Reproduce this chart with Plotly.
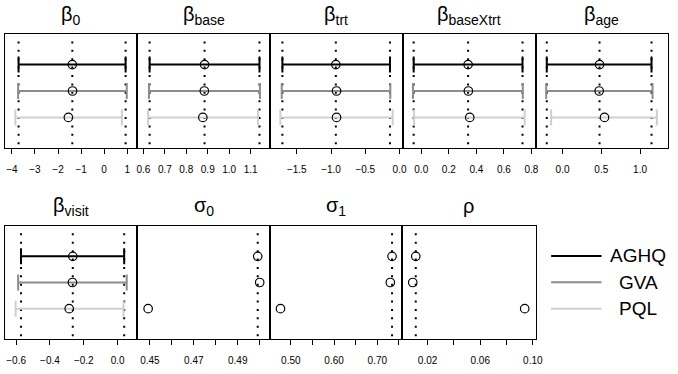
import plotly.graph_objects as go

W, H = 678, 374

methods = ["AGHQ", "GVA", "PQL"]
method_colors = ["#000000", "#8c8c8c", "#cfcfcf"]

titles = ["β<sub>0</sub>", "β<sub>base</sub>", "β<sub>trt</sub>", "β<sub>baseXtrt</sub>", "β<sub>age</sub>",
          "β<sub>visit</sub>", "σ<sub>0</sub>", "σ<sub>1</sub>", "ρ"]

# estimates per method (AGHQ, GVA, PQL)
est_b0 = [-1.38, -1.37, -1.55]
lo_b0 = [-3.71, -3.73, -3.85]
hi_b0 = [0.93, 0.98, 0.77]

est_base = [0.885, 0.884, 0.877]
lo_base = [0.629, 0.626, 0.622]
hi_base = [1.141, 1.143, 1.134]

est_trt = [-0.93, -0.92, -0.92]
lo_trt = [-1.71, -1.72, -1.74]
hi_trt = [-0.14, -0.135, -0.10]

est_bxt = [0.340, 0.342, 0.352]
lo_bxt = [-0.055, -0.060, -0.052]
hi_bxt = [0.735, 0.737, 0.751]

est_age = [0.477, 0.472, 0.541]
lo_age = [-0.204, -0.212, -0.148]
hi_age = [1.148, 1.161, 1.217]

est_visit = [-0.265, -0.267, -0.286]
lo_visit = [-0.571, -0.588, -0.603]
hi_visit = [0.039, 0.054, 0.035]

est_s0 = [0.4991, 0.5000, 0.4492]
est_s1 = [0.734, 0.730, 0.476]
est_rho = [0.0110, 0.0087, 0.0938]

# tick values and labels per panel (plus unlabeled minor ticks)
tv_b0 = [-4, -3, -2, -1, 0, 1]
tt_b0 = ["−4", "−3", "−2", "−1", "0", "1"]
tv_base = [0.6, 0.7, 0.8, 0.9, 1.0, 1.1]
tt_base = ["0.6", "0.7", "0.8", "0.9", "1.0", "1.1"]
tv_trt = [-1.5, -1.0, -0.5, 0.0]
tt_trt = ["−1.5", "−1.0", "−0.5", "0.0"]
tv_bxt = [0.0, 0.2, 0.4, 0.6, 0.8]
tt_bxt = ["0.0", "0.2", "0.4", "0.6", "0.8"]
tv_age = [0.0, 0.5, 1.0]
tt_age = ["0.0", "0.5", "1.0"]
tv_visit = [-0.6, -0.4, -0.2, 0.0]
tt_visit = ["−0.6", "−0.4", "−0.2", "0.0"]
tv_s0 = [0.45, 0.47, 0.49]
tt_s0 = ["0.45", "0.47", "0.49"]
mv_s0 = [0.46, 0.48, 0.50]
tv_s1 = [0.50, 0.60, 0.70]
tt_s1 = ["0.50", "0.60", "0.70"]
mv_s1 = [0.55, 0.65, 0.75]
tv_rho = [0.02, 0.06, 0.10]
tt_rho = ["0.02", "0.06", "0.10"]
mv_rho = [0.04, 0.08]

panels = [
    dict(est=est_b0, lo=lo_b0, hi=hi_b0, tv=tv_b0, tt=tt_b0, mv=None, xr=[-4.30, 1.44]),
    dict(est=est_base, lo=lo_base, hi=hi_base, tv=tv_base, tt=tt_base, mv=None, xr=[0.572, 1.189]),
    dict(est=est_trt, lo=lo_trt, hi=hi_trt, tv=tv_trt, tt=tt_trt, mv=None, xr=[-1.894, 0.053]),
    dict(est=est_bxt, lo=lo_bxt, hi=hi_bxt, tv=tv_bxt, tt=tt_bxt, mv=None, xr=[-0.131, 0.830]),
    dict(est=est_age, lo=lo_age, hi=hi_age, tv=tv_age, tt=tt_age, mv=None, xr=[-0.348, 1.361]),
    dict(est=est_visit, lo=lo_visit, hi=hi_visit, tv=tv_visit, tt=tt_visit, mv=None, xr=[-0.666, 0.117]),
    dict(est=est_s0, lo=None, hi=None, tv=tv_s0, tt=tt_s0, mv=mv_s0, xr=[0.4443, 0.5046]),
    dict(est=est_s1, lo=None, hi=None, tv=tv_s1, tt=tt_s1, mv=mv_s1, xr=[0.4513, 0.7575]),
    dict(est=est_rho, lo=None, hi=None, tv=tv_rho, tt=tt_rho, mv=mv_rho, xr=[0.0007, 0.1021]),
]

# panel boxes in pixels (x0, x1, ytop, ybottom)
boxes = [(4, 138, 34, 148), (138, 272, 34, 148), (272, 407, 34, 148), (407, 541, 34, 148), (541, 675, 34, 148),
         (4, 138, 226, 339), (138, 272, 226, 339), (272, 406, 226, 339), (406, 541, 226, 339)]
title_y = [16, 16, 16, 16, 16, 206, 206, 206, 206]

FONT = "Liberation Sans, Arial, Helvetica, sans-serif"
fig = go.Figure()
layout = dict(width=W, height=H, margin=dict(l=0, r=0, t=0, b=0), paper_bgcolor="white",
              plot_bgcolor="white", showlegend=False, font=dict(family=FONT, color="black"))
shapes = []
annotations = []

for i, (p, b) in enumerate(zip(panels, boxes)):
    xa = "x" if i == 0 else f"x{i+1}"
    ya = "y" if i == 0 else f"y{i+1}"
    xkey = "xaxis" if i == 0 else f"xaxis{i+1}"
    ykey = "yaxis" if i == 0 else f"yaxis{i+1}"
    x0, x1, yt, yb = b
    xaxis = dict(domain=[x0 / W, x1 / W], anchor=ya, range=p["xr"], showgrid=False, zeroline=False,
                 showline=True, mirror=True, linecolor="black", linewidth=1,
                 ticks="outside", ticklen=5, tickwidth=1, tickcolor="black",
                 tickvals=p["tv"], ticktext=p["tt"], tickfont=dict(size=10, family=FONT, color="black"),
                 ticklabelstandoff=7)
    if p["mv"] is not None:
        xaxis["minor"] = dict(tickvals=p["mv"], ticks="outside", ticklen=5, tickwidth=1,
                              tickcolor="black", showgrid=False)
    layout[xkey] = xaxis
    layout[ykey] = dict(domain=[1 - yb / H, 1 - yt / H], anchor=xa, type="category", categoryorder="array",
                        categoryarray=methods[::-1], range=[-1.16, 3.16], showgrid=False, zeroline=False,
                        showline=True, mirror=True, linecolor="black", linewidth=1,
                        showticklabels=False, ticks="")
    # dotted reference lines at AGHQ values
    refs = [p["est"][0]] if p["lo"] is None else [p["lo"][0], p["est"][0], p["hi"][0]]
    for r in refs:
        shapes.append(dict(type="line", xref=xa, yref=f"{ya} domain", x0=r, x1=r, y0=0.935, y1=0.02,
                           line=dict(color="black", width=2, dash="2px,6.4px"), layer="below"))
    for m, (meth, col) in enumerate(zip(methods, method_colors)):
        tr = dict(x=[p["est"][m]], y=[meth], xaxis=xa, yaxis=ya, mode="markers",
                  marker=dict(symbol="circle-open", size=8.5, color="black", line=dict(width=1.2)),
                  hoverinfo="skip")
        if p["lo"] is not None:
            tr["error_x"] = dict(type="data", symmetric=False,
                                 array=[p["hi"][m] - p["est"][m]], arrayminus=[p["est"][m] - p["lo"][m]],
                                 color=col, thickness=2, width=8)
        fig.add_trace(go.Scatter(**tr))
    annotations.append(dict(text=titles[i], xref="paper", yref="paper", x=(x0 + x1) / 2 / W,
                            y=1 - title_y[i] / H, xanchor="center", yanchor="middle", showarrow=False,
                            font=dict(size=20, family=FONT, color="black")))

# legend
leg_y = [256, 282.3, 308.7]
for meth, col, ly in zip(methods, method_colors, leg_y):
    shapes.append(dict(type="line", xref="paper", yref="paper", x0=556.7 / W, x1=607.7 / W,
                       y0=1 - ly / H, y1=1 - ly / H, line=dict(color=col, width=2)))
    annotations.append(dict(text=meth, xref="paper", yref="paper", x=645 / W, y=1 - ly / H,
                            xanchor="center", yanchor="middle", showarrow=False,
                            font=dict(size=19, family=FONT, color="black")))

layout["shapes"] = shapes
layout["annotations"] = annotations
fig.update_layout(**layout)
fig.write_html("out.html")
